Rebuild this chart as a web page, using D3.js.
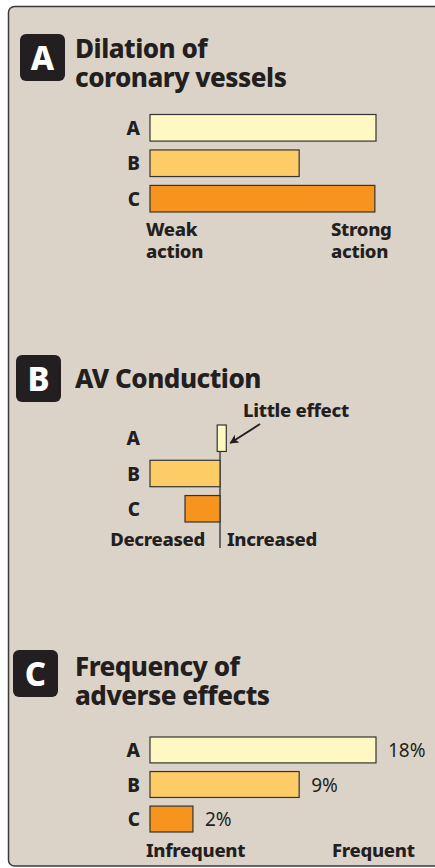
<!DOCTYPE html>
<html>
<head>
<meta charset="utf-8">
<script src="https://cdn.jsdelivr.net/npm/d3@7"></script>
<style>
  html, body { margin: 0; padding: 0; background: #fff; }
  svg { display: block; font-family: "Noto Sans", "Open Sans", sans-serif; }
</style>
</head>
<body>
<svg id="chart"></svg>
<script>
const width = 435;
const height = 868;

// rows shared by all three panels
const drugs = ['A', 'B', 'C'];
const drugColors = ['#fff8c2', '#fecc66', '#f7941d'];

// panel A: dilation of coronary vessels (relative strength, 0 = weak, 100 = strong)
const dilation = [100, 66, 99.5];

// panel B: AV conduction (negative = decreased)
const avStart = [-0.04, -1, -0.5];
const avEnd = [0.09, 0, 0];

// panel C: frequency of adverse effects
const freqBar = [100, 66, 19];
const freqLabels = ['18%', '9%', '2%'];

const ink = '#231f20';
const heavy = 800;

const svg = d3.select('#chart')
              .attr('width', width)
              .attr('height', height);

// panel frame
svg.append('rect')
   .attr('x', 8.5).attr('y', 6.5)
   .attr('width', 460).attr('height', 859.5)
   .attr('rx', 6)
   .attr('fill', '#dcd3c8')
   .attr('stroke', '#3a3a3a')
   .attr('stroke-width', 1.5);

function badge(x, y, letter) {
  svg.append('rect')
     .attr('x', x).attr('y', y)
     .attr('width', 45).attr('height', 47)
     .attr('rx', 6)
     .attr('fill', ink);
  svg.append('text')
     .attr('x', x + 22.5).attr('y', y + 36)
     .attr('text-anchor', 'middle')
     .attr('fill', '#fff')
     .attr('font-size', 33)
     .attr('font-weight', heavy)
     .text(letter);
}

function title(lines, x, y) {
  lines.forEach((l, i) => {
    svg.append('text')
       .attr('x', x).attr('y', y + i * 29)
       .attr('fill', ink)
       .attr('font-size', 26)
       .attr('font-weight', heavy)
       .attr('letter-spacing', -0.5)
       .text(l);
  });
}

function boldText(x, y, s, anchor) {
  svg.append('text')
     .attr('x', x).attr('y', y)
     .attr('text-anchor', anchor || 'start')
     .attr('fill', ink)
     .attr('font-size', 18.5)
     .attr('font-weight', heavy)
     .attr('letter-spacing', -0.3)
     .text(s);
}

function rowLabels(yScale) {
  svg.append('g')
     .selectAll('text')
     .data(drugs)
     .enter()
     .append('text')
     .attr('x', 140)
     .attr('y', d => yScale(d) + yScale.bandwidth() / 2 + 7)
     .attr('text-anchor', 'end')
     .attr('fill', ink)
     .attr('font-size', 19)
     .attr('font-weight', heavy)
     .text(d => d);
}

// ---- Panel A
badge(20, 34, 'A');
title(['Dilation of', 'coronary vessels'], 75, 58);

const xA = d3.scaleLinear().domain([0, 100]).range([150, 376]);
const yA = d3.scaleBand().domain(drugs).range([114.5, 212]).paddingInner(0.25);

svg.append('g')
   .selectAll('rect')
   .data(dilation)
   .enter()
   .append('rect')
   .attr('x', xA(0))
   .attr('y', (d, i) => yA(drugs[i]))
   .attr('width', d => xA(d) - xA(0))
   .attr('height', yA.bandwidth())
   .attr('fill', (d, i) => drugColors[i])
   .attr('stroke', '#333')
   .attr('stroke-width', 1.2);
rowLabels(yA);

boldText(146, 236, 'Weak');
boldText(146, 258, 'action');
boldText(331, 236, 'Strong');
boldText(331, 258, 'action');

// ---- Panel B
badge(16, 355, 'B');
title(['AV Conduction'], 75, 388);

const xB = d3.scaleLinear().domain([-1, 0.3]).range([150, 241]);
const yB = d3.scaleBand().domain(drugs).range([425, 522]).paddingInner(0.25);

svg.append('line')
   .attr('x1', xB(0)).attr('x2', xB(0))
   .attr('y1', yB('A')).attr('y2', 548)
   .attr('stroke', '#444')
   .attr('stroke-width', 1.5);

svg.append('g')
   .selectAll('rect')
   .data(drugs)
   .enter()
   .append('rect')
   .attr('x', (d, i) => xB(avStart[i]))
   .attr('y', d => yB(d))
   .attr('width', (d, i) => xB(avEnd[i]) - xB(avStart[i]))
   .attr('height', yB.bandwidth())
   .attr('fill', (d, i) => drugColors[i])
   .attr('stroke', '#333')
   .attr('stroke-width', 1.2);
rowLabels(yB);

boldText(243, 417, 'Little effect');
svg.append('defs').append('marker')
   .attr('id', 'arrow')
   .attr('viewBox', '0 0 10 10')
   .attr('refX', 9).attr('refY', 5)
   .attr('markerWidth', 12).attr('markerHeight', 9)
   .attr('markerUnits', 'userSpaceOnUse')
   .attr('orient', 'auto')
   .append('path')
   .attr('d', 'M0,0 L10,5 L0,10 L2.5,5 Z')
   .attr('fill', ink);
svg.append('line')
   .attr('x1', 260).attr('y1', 424)
   .attr('x2', xB(avEnd[0]) + 4).attr('y2', yB('A') + 18)
   .attr('stroke', ink)
   .attr('stroke-width', 1.8)
   .attr('marker-end', 'url(#arrow)');

boldText(xB(0) - 15, 546, 'Decreased', 'end');
boldText(xB(0) + 7, 546, 'Increased');

// ---- Panel C
badge(13, 650, 'C');
title(['Frequency of', 'adverse effects'], 75, 676);

const xC = d3.scaleLinear().domain([0, 100]).range([150, 376]);
const yC = d3.scaleBand().domain(drugs).range([737, 832]).paddingInner(0.25);

svg.append('g')
   .selectAll('rect')
   .data(freqBar)
   .enter()
   .append('rect')
   .attr('x', xC(0))
   .attr('y', (d, i) => yC(drugs[i]))
   .attr('width', d => xC(d) - xC(0))
   .attr('height', yC.bandwidth())
   .attr('fill', (d, i) => drugColors[i])
   .attr('stroke', '#333')
   .attr('stroke-width', 1.2);
rowLabels(yC);

svg.append('g')
   .selectAll('text')
   .data(freqBar)
   .enter()
   .append('text')
   .attr('x', d => xC(d) + 12)
   .attr('y', (d, i) => yC(drugs[i]) + yC.bandwidth() / 2 + 7)
   .attr('fill', ink)
   .attr('font-size', 19)
   .text((d, i) => freqLabels[i]);

boldText(146, 857, 'Infrequent');
boldText(332, 857, 'Frequent');
</script>
</body>
</html>
